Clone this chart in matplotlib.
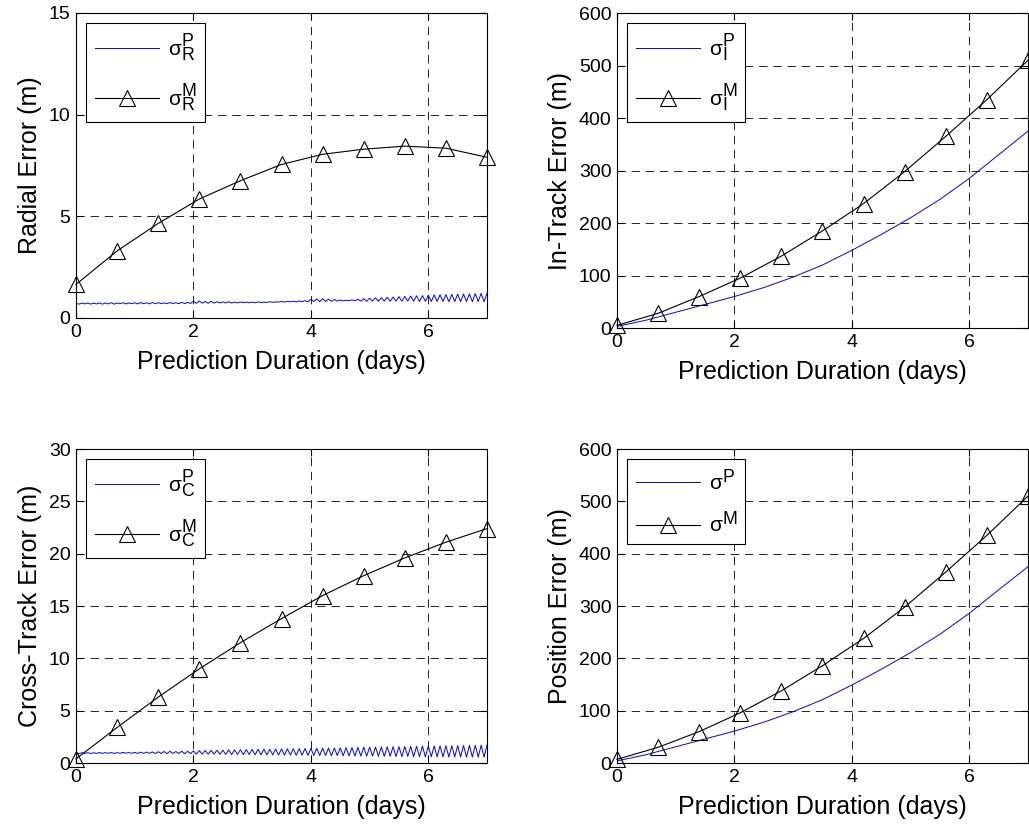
import numpy as np
import matplotlib
matplotlib.use('Agg')
import matplotlib.pyplot as plt
import matplotlib._mathtext as mathtext_mod

plt.rcParams['font.family'] = ['Liberation Sans', 'DejaVu Sans']
plt.rcParams['mathtext.fontset'] = 'custom'
plt.rcParams['mathtext.rm'] = 'Liberation Sans'
plt.rcParams['mathtext.it'] = 'Liberation Sans:italic'
# MATLAB dibuja sub/superindices casi del mismo tamaño
mathtext_mod.SHRINK_FACTOR = 0.85

# model (M) curves, marker every 0.7 days
dias_m = [0.0, 0.7, 1.4, 2.1, 2.8, 3.5, 4.2, 4.9, 5.6, 6.3, 7.0]
radial_m = [1.65, 3.3, 4.65, 5.85, 6.75, 7.55, 8.05, 8.3, 8.45, 8.35, 7.9]
intrack_m = [5, 28, 60, 95, 137, 185, 237, 298, 365, 435, 510]
cross_m = [0.4, 3.4, 6.3, 9.0, 11.5, 13.8, 16.0, 17.9, 19.6, 21.1, 22.4]
pos_m = [7, 30, 60, 96, 138, 186, 238, 298, 365, 435, 510]

# propagated (P) curves, smooth
dias_p = [0.0, 0.5, 1.0, 1.5, 2.0, 2.5, 3.0, 3.5, 4.0, 4.5, 5.0, 5.5, 6.0, 6.5, 7.0]
intrack_p = [3, 15, 30, 45, 60, 77, 97, 120, 148, 178, 210, 245, 285, 330, 375]
pos_p = [4, 16, 31, 46, 61, 78, 98, 121, 149, 179, 211, 246, 286, 331, 375]

# oscillating P curves, sampled every 0.05 days
dias_osc = [i * 0.05 for i in range(141)]
radial_p = [
    0.72, 0.68, 0.73, 0.69, 0.74, 0.68, 0.73, 0.69, 0.74, 0.68,
    0.74, 0.69, 0.75, 0.68, 0.74, 0.70, 0.75, 0.69, 0.74, 0.70,
    0.75, 0.69, 0.76, 0.70, 0.75, 0.69, 0.76, 0.70, 0.75, 0.71,
    0.74, 0.70, 0.76, 0.71, 0.75, 0.70, 0.77, 0.71, 0.76, 0.72,
    0.82, 0.72, 0.83, 0.73, 0.81, 0.72, 0.82, 0.73, 0.80, 0.74,
    0.79, 0.74, 0.80, 0.73, 0.78, 0.74, 0.79, 0.75, 0.78, 0.75,
    0.78, 0.75, 0.79, 0.76, 0.78, 0.76, 0.80, 0.77, 0.79, 0.78,
    0.81, 0.78, 0.82, 0.79, 0.83, 0.79, 0.84, 0.80, 0.85, 0.80,
    0.92, 0.81, 0.94, 0.80, 0.95, 0.81, 0.93, 0.82, 0.91, 0.83,
    0.88, 0.84, 0.87, 0.85, 0.89, 0.84, 0.92, 0.83, 0.95, 0.82,
    0.97, 0.83, 0.99, 0.82, 1.00, 0.83, 1.02, 0.82, 1.03, 0.83,
    1.05, 0.82, 1.06, 0.83, 1.08, 0.82, 1.09, 0.81, 1.10, 0.82,
    1.12, 0.81, 1.13, 0.82, 1.14, 0.81, 1.15, 0.80, 1.16, 0.81,
    1.17, 0.80, 1.18, 0.81, 1.19, 0.80, 1.20, 0.81, 1.21, 0.80, 1.22,
]
cross_p = [
    0.95, 0.90, 0.98, 0.92, 0.99, 0.91, 0.98, 0.93, 1.00, 0.92,
    0.99, 0.93, 1.00, 0.92, 0.99, 0.93, 1.01, 0.94, 1.00, 0.93,
    1.02, 0.92, 1.04, 0.93, 1.05, 0.92, 1.06, 0.91, 1.08, 0.92,
    1.10, 0.90, 1.12, 0.91, 1.10, 0.90, 1.13, 0.89, 1.12, 0.90,
    1.15, 0.86, 1.18, 0.85, 1.20, 0.84, 1.21, 0.85, 1.22, 0.83,
    1.23, 0.82, 1.25, 0.81, 1.26, 0.82, 1.27, 0.80, 1.28, 0.81,
    1.30, 0.79, 1.31, 0.78, 1.33, 0.77, 1.32, 0.78, 1.34, 0.76,
    1.35, 0.75, 1.36, 0.76, 1.37, 0.74, 1.38, 0.75, 1.39, 0.73,
    1.40, 0.72, 1.41, 0.71, 1.42, 0.72, 1.43, 0.70, 1.44, 0.71,
    1.45, 0.69, 1.47, 0.68, 1.48, 0.67, 1.50, 0.66, 1.51, 0.65,
    1.52, 0.66, 1.53, 0.64, 1.54, 0.63, 1.55, 0.64, 1.56, 0.62,
    1.57, 0.61, 1.58, 0.62, 1.59, 0.60, 1.60, 0.61, 1.61, 0.59,
    1.62, 0.60, 1.63, 0.58, 1.64, 0.59, 1.65, 0.57, 1.66, 0.58,
    1.67, 0.57, 1.68, 0.56, 1.69, 0.57, 1.70, 0.56, 1.71, 0.55, 1.72,
]

paneles = [
    # (rect, x_p, y_p, y_m, ylabel, ylim, yticks, sub)
    ([0.0739, 0.6169, 0.3994, 0.3675], dias_osc, radial_p, radial_m,
     'Radial Error (m)', (0, 15), [0, 5, 10, 15], 'R'),
    ([0.5996, 0.6048, 0.3994, 0.3795], dias_p, intrack_p, intrack_m,
     'In-Track Error (m)', (0, 600), [0, 100, 200, 300, 400, 500, 600], 'I'),
    ([0.0739, 0.0807, 0.3994, 0.3783], dias_osc, cross_p, cross_m,
     'Cross-Track Error (m)', (0, 30), [0, 5, 10, 15, 20, 25, 30], 'C'),
    ([0.5996, 0.0807, 0.3994, 0.3783], dias_p, pos_p, pos_m,
     'Position Error (m)', (0, 600), [0, 100, 200, 300, 400, 500, 600], None),
]

fig = plt.figure(figsize=(10.29, 8.30), dpi=100)

for rect, xp, yp, ym, ylabel, ylim, yticks, sub in paneles:
    ax = fig.add_axes(rect)
    if sub:
        lab_p = r'$\mathrm{σ}_\mathrm{%s}^\mathrm{P}$' % sub
        lab_m = r'$\mathrm{σ}_\mathrm{%s}^\mathrm{M}$' % sub
    else:
        lab_p = r'$\mathrm{σ}^\mathrm{P}$'
        lab_m = r'$\mathrm{σ}^\mathrm{M}$'
    ax.plot(xp, yp, color='#0000ff', lw=0.7, label=lab_p)
    ax.plot(dias_m, ym, color='black', lw=0.8, marker='^', markersize=11,
            markerfacecolor='none', markeredgecolor='black', markeredgewidth=0.8,
            label=lab_m, clip_on=False)

    ax.set_xlim(0, 7)
    ax.set_ylim(*ylim)
    ax.set_xticks([0, 2, 4, 6])
    ax.set_yticks(yticks)
    ax.grid(True, color='black', linestyle=(0, (10, 7)), linewidth=0.6)
    ax.tick_params(direction='in', length=5, width=0.8, labelsize=14,
                   top=True, right=True, pad=4)
    for s in ax.spines.values():
        s.set_linewidth(0.8)
    ax.set_xlabel('Prediction Duration (days)', fontsize=18, labelpad=7)
    ax.set_ylabel(ylabel, fontsize=18, labelpad=5)

    leg = ax.legend(loc='upper left', fontsize=15, handlelength=3.1,
                    fancybox=False, framealpha=1, edgecolor='black',
                    borderaxespad=0.5, labelspacing=0.8, handletextpad=0.4)
    leg.get_frame().set_linewidth(0.8)

plt.savefig('out.png', dpi=100)
